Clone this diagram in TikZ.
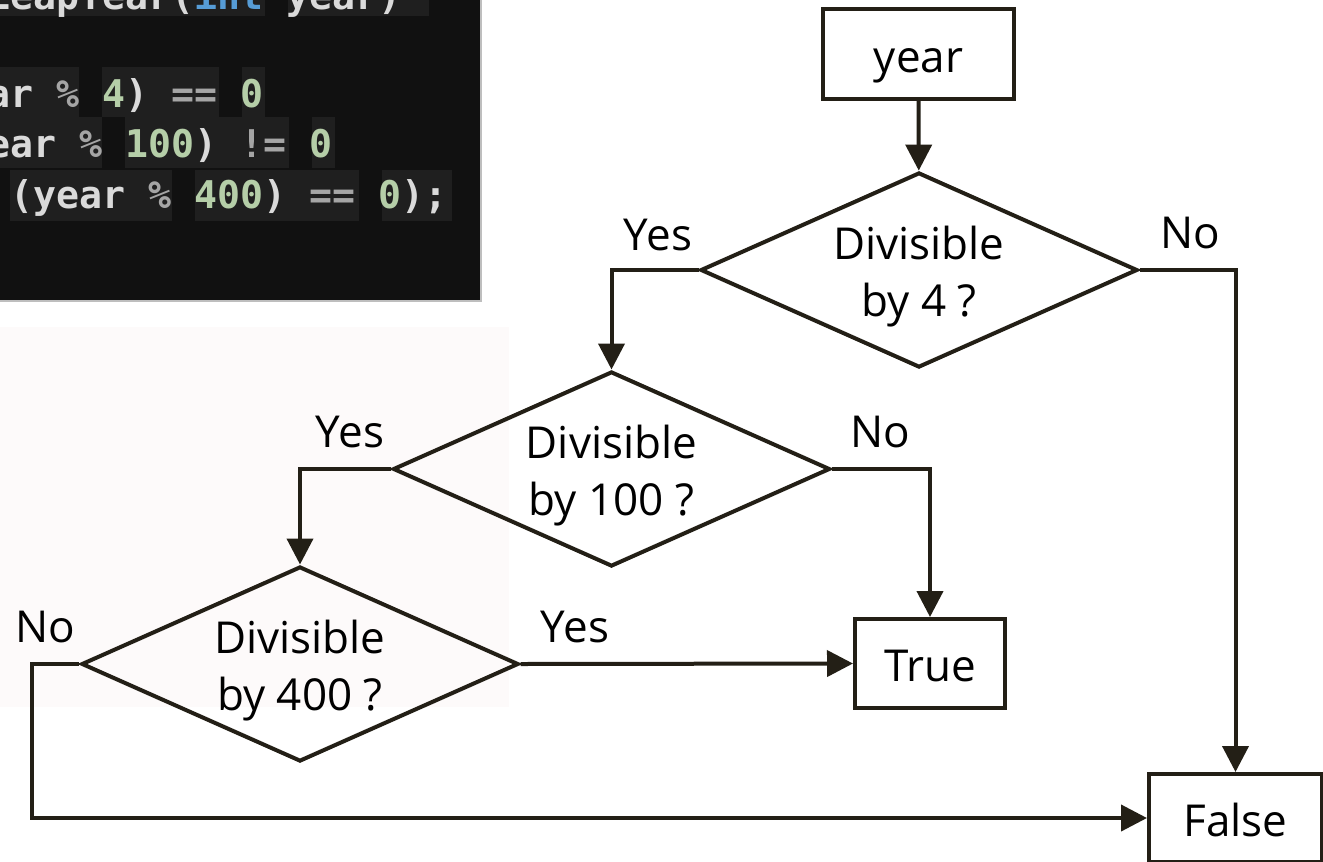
\documentclass[tikz,border=0pt]{standalone}
\usepackage{fontspec}
\setmainfont{Open Sans}
\setmonofont{DejaVu Sans Mono}
\usepackage{tikz}
\usetikzlibrary{arrows.meta, shapes.geometric}
\usepackage{color}

\definecolor{linecol}{RGB}{35,31,22}
\definecolor{codebg}{RGB}{17,17,17}
\definecolor{codehl}{RGB}{31,31,31}
\definecolor{codeframe}{RGB}{190,190,190}
\definecolor{codetxt}{RGB}{218,218,218}
\definecolor{codeop}{RGB}{165,165,165}
\definecolor{codenum}{RGB}{181,206,168}
\definecolor{codekw}{RGB}{86,156,214}
\definecolor{softbg}{RGB}{253,250,250}

\newcommand{\opc}[1]{\textcolor{codeop}{#1}}
\newcommand{\numc}[1]{\textcolor{codenum}{#1}}
\newcommand{\kwc}[1]{\textcolor{codekw}{#1}}

\tikzset{
	box/.style={draw=linecol, line width=4bp, minimum height=89bp, inner sep=0, text height=46bp, text depth=10bp},
	decision/.style={diamond, draw=linecol, line width=4bp, aspect=2.24, minimum width=437bp, minimum height=195bp, inner sep=0, align=center, text height=104bp},
	flow/.style={draw=linecol, line width=4bp, -{Triangle[length=26bp, width=26bp]}},
	branch/.style={anchor=base, inner sep=0},
	codeline/.style={anchor=base west, inner sep=0, text=codetxt, font=\ttfamily\bfseries\fontsize{38.2bp}{50bp}\selectfont}
}

\begin{document}
\begin{tikzpicture}[x=1bp, y=-1bp, font=\fontsize{44bp}{57bp}\selectfont]
	\useasboundingbox (0,0) rectangle (1323,861);
	\fill[white] (0,0) rectangle (1323,861);
	\fill[softbg] (0,327) rectangle (509,707);

	% code screenshot
	\fill[codebg] (-10,-10) rectangle (481,301);
	\foreach \xa/\xb/\ya/\yb in {-13/265/-40/16, 288/429/-40/16,
			-13/79/67/117, 102/219/67/117, 242/265/67/117,
			-13/102/117/168, 125/289/117/168, 312/335/117/168,
			10/172/170/221, 195/359/170/221, 382/452/170/221}{
		\fill[codehl] (\xa,\ya) rectangle (\xb,\yb);
	}
	\draw[codeframe, line width=2bp] (-10,301) -- (481,301) -- (481,-10);
	\node[codeline] (code1) at (-13,9) {LeapYear(\kwc{int} year)};
	\node[codeline] (code3) at (-13,107) {ar \opc{\%} \numc{4}) \opc{==} \numc{0}};
	\node[codeline] (code4) at (-13,157) {ear \opc{\%} \numc{100}) \opc{!=} \numc{0}};
	\node[codeline] (code5) at (10,208) {(year \opc{\%} \numc{400}) \opc{==} \numc{0});};

	% flowchart
	\node[box, minimum width=191bp] (year) at (918.5,54) {year};
	\node[decision] (div4) at (919,270) {Divisible\\by 4 ?};
	\node[decision] (div100) at (611.5,469) {Divisible\\by 100 ?};
	\node[decision] (div400) at (300,664) {Divisible\\by 400 ?};
	\node[box, minimum width=150bp] (true) at (930,663.5) {True};
	\node[box, minimum width=173bp, minimum height=88bp] (false) at (1235.5,818) {False};
	\coordinate (nocorner) at (32,664);

	\draw[flow] (year) -- (div4);
	\draw[flow] (div4.west) -| (div100.north);
	\draw[flow] (div4.east) -| (false.north);
	\draw[flow] (div100.west) -| (div400.north);
	\draw[flow] (div100.east) -| (true.north);
	\draw[flow] (div400.east) -- (true.west);
	\draw[flow] (div400.west) -- (nocorner) |- (false.west);

	\node[branch] (yes4) at (658,250) {Yes};
	\node[branch] (no4) at (1190,248) {No};
	\node[branch] (yes100) at (350,447) {Yes};
	\node[branch] (no100) at (880,447) {No};
	\node[branch] (no400) at (45,642) {No};
	\node[branch] (yes400) at (575,642) {Yes};
\end{tikzpicture}
\end{document}
